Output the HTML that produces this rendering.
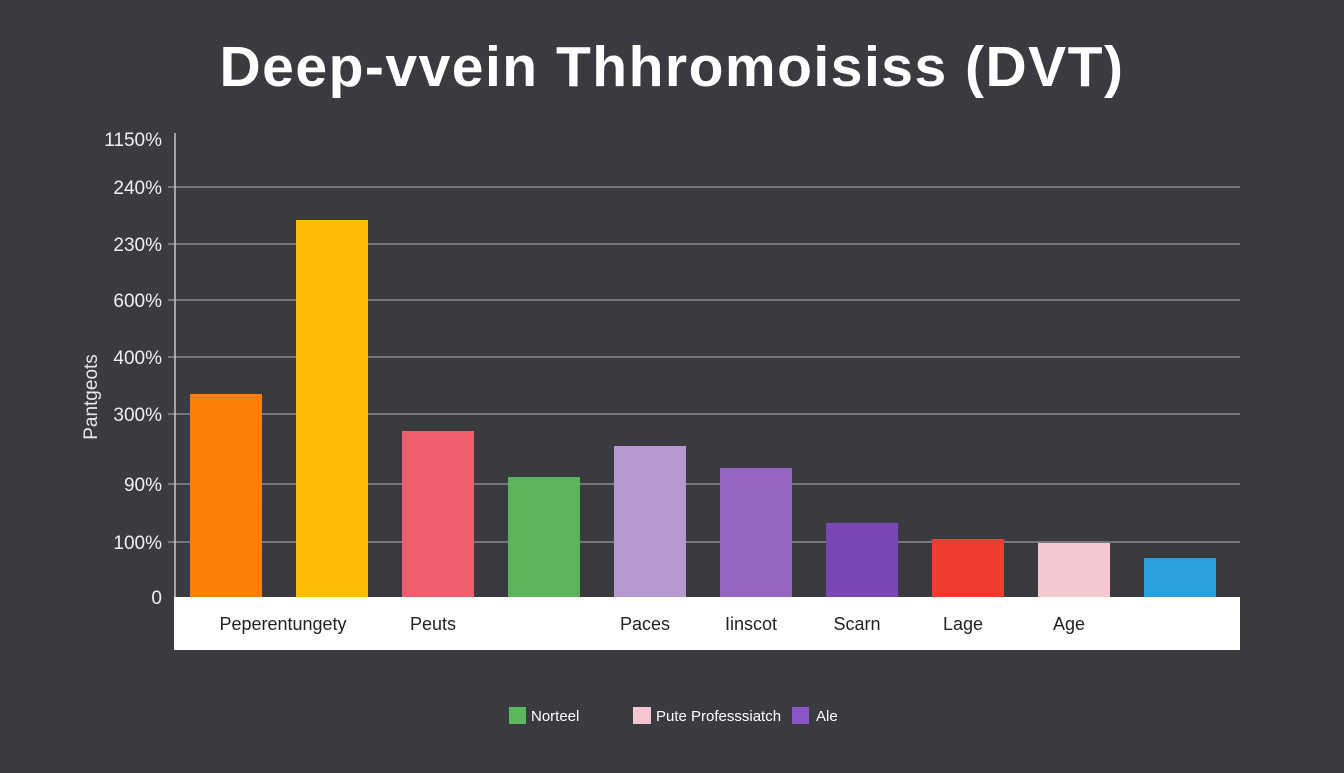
<!DOCTYPE html>
<html><head><meta charset="utf-8"><style>
html,body{margin:0;padding:0;background:#3a3b41;}
body{width:1344px;height:768px;overflow:hidden;position:relative;font-family:"Liberation Sans",sans-serif;}
</style></head><body>
<svg id="c" width="1344" height="768" xmlns="http://www.w3.org/2000/svg">
<rect width="1344" height="768" fill="#3a3b41"/>
<text x="672" y="86" text-anchor="middle" fill="#ffffff" font-size="57" font-weight="bold" letter-spacing="1.5" font-family="Liberation Sans, sans-serif">Deep-vvein Thhromoisiss (DVT)</text>
<text transform="translate(97,397) rotate(-90)" text-anchor="middle" fill="#e8e8e8" font-size="19">Pantgeots</text>
<rect x="174" y="597" width="1066" height="53" fill="#ffffff"/>
<g id="grid"></g><g id="bars"></g><g id="xl"></g>
<line x1="175" y1="133" x2="175" y2="597" stroke="#c8c8c8" stroke-width="1.5"/>
<g>
<rect x="509" y="707" width="17" height="17" fill="#5cb85c"/>
<text x="531" y="721" fill="#ffffff" font-size="15">Norteel</text>
<rect x="633" y="707" width="18" height="17" fill="#f5c6cf"/>
<text x="656" y="721" fill="#ffffff" font-size="15">Pute Professsiatch</text>
<rect x="792" y="707" width="17" height="17" fill="#8a55c6"/>
<text x="816" y="721" fill="#ffffff" font-size="15">Ale</text>
</g>
</svg>
<script>
const categories=["Peperentungety","","Peuts","","Paces","Iinscot","Scarn","Lage","Age",""];
const values=[203,377,166,120,151,129,74,58,54,39];
const colors=["#fb7f06","#ffbd0a","#f25c6f","#5cb35a","#b598cf","#9466c2","#7a47b6","#f13d2f","#f5c7d0","#2a9fdf"];
const tickValues=[0,55,113,183,240,297,353,410,464];
const tickLabels=["0","100%","90%","300%","400%","600%","230%","240%","1150%"];
const NS="http://www.w3.org/2000/svg";
const y0=597,yTop=133,yMax=464;
function yScale(v){return y0-(v/yMax)*(y0-yTop);}
function xBand(i){return 190+i*106;}
const bw=72;
const grid=document.getElementById('grid');
tickValues.forEach((v,i)=>{
  const y=yScale(v);
  if(v>0&&v<yMax){
    const l=document.createElementNS(NS,'line');
    l.setAttribute('x1',168);l.setAttribute('x2',1240);l.setAttribute('y1',y);l.setAttribute('y2',y);
    l.setAttribute('stroke','#9a9ba0');l.setAttribute('stroke-width','1.2');
    
    
    grid.appendChild(l);
  }
  const t=document.createElementNS(NS,'text');
  t.setAttribute('x',162);t.setAttribute('y',y+(v===yMax?13:7));t.setAttribute('text-anchor','end');
  t.setAttribute('fill','#f0f0f0');t.setAttribute('font-size','19');
  t.textContent=tickLabels[i];
  
  
  grid.appendChild(t);
});
const bars=document.getElementById('bars');
const xl=document.getElementById('xl');
values.forEach((v,i)=>{
  const r=document.createElementNS(NS,'rect');
  r.setAttribute('x',xBand(i));r.setAttribute('y',yScale(v));r.setAttribute('width',bw);r.setAttribute('height',y0-yScale(v));
  r.setAttribute('fill',colors[i]);
  
  
  bars.appendChild(r);
  if(categories[i]){
    const t=document.createElementNS(NS,'text');
    t.setAttribute('x',i===0?283:xBand(i)+bw/2-5);t.setAttribute('y',630);t.setAttribute('text-anchor','middle');
    t.setAttribute('fill','#222');t.setAttribute('font-size','18');
    t.textContent=categories[i];
    
    
    xl.appendChild(t);
  }
});
</script>
</body></html>
